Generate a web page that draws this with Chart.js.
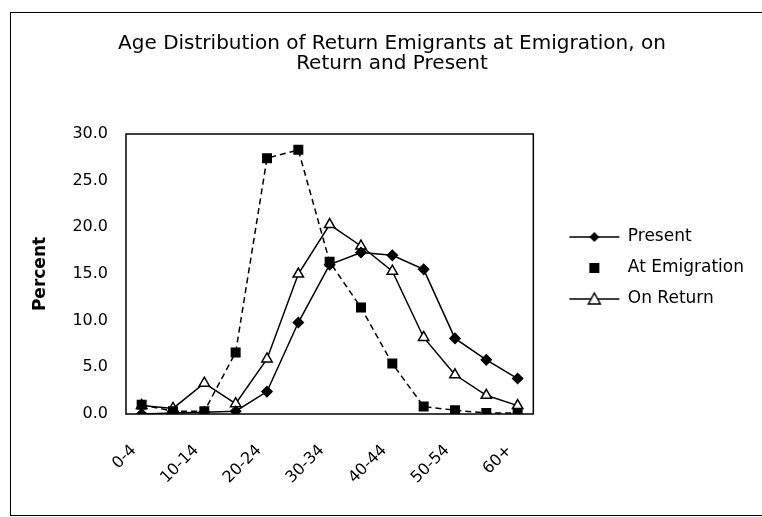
<!DOCTYPE html>
<html>
<head>
<meta charset="utf-8">
<script src="https://cdn.jsdelivr.net/npm/chart.js@4.4.1/dist/chart.umd.min.js"></script>
<style>
  html, body { margin: 0; padding: 0; background: #fff; }
  #wrap { position: relative; width: 762px; height: 517px; overflow: hidden; }
  #frame { position: absolute; left: 10px; top: 12px; width: 800px; height: 502px; border: 1px solid #000; }
  #myChart { position: absolute; left: 0; top: 0; }
</style>
</head>
<body>
<div id="wrap">
  <div id="frame"></div>
  <canvas id="myChart" width="762" height="517"></canvas>
</div>
<script>
// age groups at the time of the survey
const ageGroups = ['0-4', '5-9', '10-14', '15-19', '20-24', '25-29', '30-34',
  '35-39', '40-44', '45-49', '50-54', '55-59', '60+'];

// percent of return emigrants in each age group
const present      = [0.0, 0.1, 0.2, 0.3, 2.4, 9.8, 16.0, 17.3, 17.0, 15.5, 8.1, 5.8, 3.8];
const atEmigration = [1.0, 0.3, 0.3, 6.6, 27.4, 28.3, 16.3, 11.4, 5.4, 0.8, 0.4, 0.1, 0.1];
const onReturn     = [0.9, 0.6, 3.3, 1.1, 5.9, 15.0, 20.3, 18.0, 15.3, 8.2, 4.2, 2.0, 0.9];

const yTicks = [0, 5, 10, 15, 20, 25, 30];

const FONT = "'DejaVu Sans', sans-serif";

// little legend pictures: a line with the marker on it
function legendIcon(kind, withLine) {
  const c = document.createElement('canvas');
  c.width = 52; c.height = 16;
  const g = c.getContext('2d');
  g.strokeStyle = '#000';
  g.fillStyle = '#000';
  g.lineWidth = 1.5;
  if (withLine) {
    g.beginPath(); g.moveTo(1, 8); g.lineTo(51, 8); g.stroke();
  }
  const cx = 26, cy = 8;
  g.beginPath();
  if (kind === 'diamond') {
    g.moveTo(cx, cy - 5); g.lineTo(cx + 5, cy); g.lineTo(cx, cy + 5); g.lineTo(cx - 5, cy);
    g.closePath(); g.fill();
  } else if (kind === 'square') {
    g.rect(cx - 5, cy - 5, 10, 10); g.fill();
  } else {
    g.moveTo(cx, cy - 6); g.lineTo(cx + 6, cy + 5); g.lineTo(cx - 6, cy + 5);
    g.closePath(); g.fillStyle = '#fff'; g.fill(); g.stroke();
  }
  return c;
}

const icons = [legendIcon('diamond', true), legendIcon('square', false), legendIcon('triangle', true)];

const plotBox = {
  id: 'plotBox',
  afterDatasetsDraw(chart) {
    const a = chart.chartArea, ctx = chart.ctx;
    ctx.save();
    ctx.strokeStyle = '#000';
    ctx.lineWidth = 1.5;
    ctx.strokeRect(a.left, a.top, a.right - a.left, a.bottom - a.top);
    ctx.restore();
  }
};

window.onload = function() {
  const ctx = document.getElementById('myChart').getContext('2d');
  Chart.defaults.font.family = FONT;
  Chart.defaults.color = '#000';
  new Chart(ctx, {
    type: 'line',
    data: {
      labels: ageGroups,
      datasets: [
        {
          label: 'Present',
          data: present,
          borderColor: '#000',
          backgroundColor: '#000',
          borderWidth: 1.5,
          pointStyle: 'rectRot',
          pointRadius: 5,
          pointBackgroundColor: '#000',
          pointBorderColor: '#000',
        },
        {
          label: 'At Emigration',
          data: atEmigration,
          borderColor: '#000',
          backgroundColor: '#000',
          borderWidth: 1.5,
          borderDash: [6, 4],
          pointStyle: 'rect',
          pointRadius: 6,
          pointBackgroundColor: '#000',
          pointBorderColor: '#000',
        },
        {
          label: 'On Return',
          data: onReturn,
          borderColor: '#000',
          backgroundColor: '#fff',
          borderWidth: 1.5,
          pointStyle: 'triangle',
          pointRadius: 6,
          pointBackgroundColor: '#fff',
          pointBorderColor: '#000',
          pointBorderWidth: 1.5,
        },
      ],
    },
    options: {
      responsive: false,
      animation: false,
      layout: { padding: { top: 22, right: 8, bottom: 3, left: 30 } },
      plugins: {
        title: {
          display: true,
          text: ['Age Distribution of Return Emigrants at Emigration, on', 'Return and Present'],
          font: { size: 20, weight: 'normal', lineHeight: 1.0 },
          color: '#000',
          padding: { top: 12, bottom: 60 },
        },
        legend: {
          position: 'right',
          align: 'center',
          maxWidth: 240,
          labels: {
            usePointStyle: true,
            pointStyleWidth: 50,
            boxHeight: 16,
            padding: 14,
            font: { size: 17 },
            color: '#000',
            generateLabels(chart) {
              const items = Chart.defaults.plugins.legend.labels.generateLabels(chart);
              items.forEach((it, i) => { it.pointStyle = icons[i]; });
              return items;
            },
          },
        },
        tooltip: { enabled: false },
      },
      scales: {
        x: {
          offset: true,
          grid: { display: false, drawTicks: false },
          border: { display: false },
          afterFit: axis => { axis.height = 100; },
          ticks: {
            autoSkip: false,
            maxRotation: 45,
            minRotation: 45,
            padding: 27,
            labelOffset: -8,
            font: { size: 16 },
            callback: function(value, index) {
              return index % 2 === 0 ? ageGroups[index] : '';
            },
          },
        },
        y: {
          min: 0,
          max: 30,
          grid: { display: false, drawTicks: false },
          border: { display: false },
          afterBuildTicks: axis => { axis.ticks = yTicks.map(v => ({ value: v })); },
          afterFit: axis => { axis.width = 96; },
          ticks: {
            padding: 18,
            font: { size: 16 },
            callback: v => v.toFixed(1),
          },
          title: {
            display: true,
            text: 'Percent',
            font: { size: 17, weight: 'bold' },
            padding: { top: 0, bottom: 0 },
          },
        },
        // empty strip between the plot and the legend
        gap: {
          type: 'linear',
          position: 'right',
          grid: { display: false, drawTicks: false },
          border: { display: false },
          ticks: { display: false },
          afterFit: axis => { axis.width = 22; },
        },
      },
    },
    plugins: [plotBox],
  });
};
</script>
</body>
</html>
